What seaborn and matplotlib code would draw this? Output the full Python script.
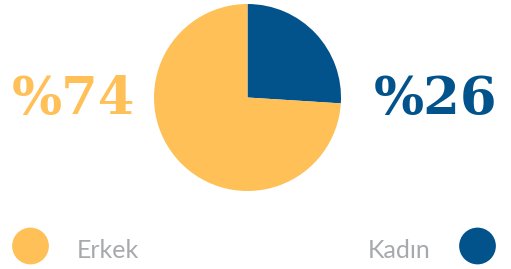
import matplotlib
matplotlib.use("Agg")
from matplotlib import pyplot as plt
import seaborn as sns

# data
groups = ["Kadın", "Erkek"]
shares = [26, 74]
colors = ["#02538B", "#FEC057"]
gray = "#A7A9AC"

sns.set_theme(style="white")

W, H = 511, 269
fig = plt.figure(figsize=(W / 100, H / 100), dpi=100)
ax = fig.add_axes([0, 0, 1, 1])

# pie, blue slice starts at 12 o'clock and goes clockwise
ax.pie(shares, colors=colors, startangle=90, counterclock=False,
       center=(247.5, H - 97.5), radius=93.5, frame=True,
       wedgeprops=dict(linewidth=0))

# big percent labels
big = dict(family="DejaVu Serif", fontweight="bold", fontsize=38,
           va="baseline")
ax.text(12, H - 114, f"%{shares[1]}", color=colors[1], ha="left", **big)
ax.text(497, H - 114, f"%{shares[0]}", color=colors[0], ha="right", **big)

# legend dots and names
sns.scatterplot(x=[30.5, 477.5], y=[H - 246, H - 246], hue=groups[::-1],
                palette=colors[::-1], s=700, linewidth=0, legend=False, ax=ax)
lab = dict(family="Lato", fontsize=18, color=gray, va="center")
ax.text(77, H - 250, groups[1], ha="left", **lab)
ax.text(431, H - 250, groups[0], ha="right", **lab)

ax.set_xlim(0, W)
ax.set_ylim(0, H)
ax.set_aspect("equal")
ax.axis("off")

fig.savefig("out.png", dpi=100)
